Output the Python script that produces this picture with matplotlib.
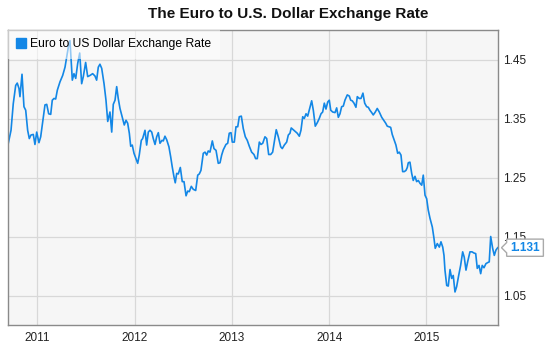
import matplotlib
matplotlib.use("Agg")
import matplotlib.pyplot as plt
from matplotlib.lines import Line2D
from matplotlib.path import Path

plt.rcParams['font.family'] = ['Liberation Sans', 'DejaVu Sans']

# time in decimal years, EUR/USD rate
t = [2010.702, 2010.730, 2010.753, 2010.778, 2010.794, 2010.812, 2010.822, 2010.843, 2010.863, 2010.881,
     2010.901, 2010.918, 2010.935, 2010.959, 2010.976, 2010.994, 2011.017, 2011.035, 2011.062, 2011.079,
     2011.097, 2011.117, 2011.138, 2011.154, 2011.172, 2011.189, 2011.206, 2011.233, 2011.261, 2011.285,
     2011.302, 2011.319, 2011.336, 2011.360, 2011.377, 2011.395, 2011.415, 2011.436, 2011.456, 2011.473,
     2011.497, 2011.518, 2011.542, 2011.569, 2011.593, 2011.610, 2011.627, 2011.644, 2011.662, 2011.686,
     2011.706, 2011.724, 2011.747, 2011.765, 2011.781, 2011.799, 2011.816, 2011.832, 2011.850, 2011.874,
     2011.894, 2011.912, 2011.929, 2011.946, 2011.960, 2011.976, 2011.994, 2012.014, 2012.032, 2012.048,
     2012.069, 2012.083, 2012.107, 2012.124, 2012.141, 2012.158, 2012.176, 2012.192, 2012.210, 2012.227,
     2012.244, 2012.261, 2012.282, 2012.295, 2012.312, 2012.330, 2012.353, 2012.371, 2012.387, 2012.405,
     2012.418, 2012.433, 2012.449, 2012.470, 2012.490, 2012.508, 2012.529, 2012.546, 2012.562, 2012.583,
     2012.603, 2012.628, 2012.649, 2012.665, 2012.682, 2012.706, 2012.724, 2012.741, 2012.757, 2012.775,
     2012.799, 2012.816, 2012.837, 2012.860, 2012.878, 2012.895, 2012.912, 2012.939, 2012.957, 2012.973,
     2012.991, 2013.004, 2013.025, 2013.042, 2013.060, 2013.076, 2013.097, 2013.117, 2013.138, 2013.158,
     2013.179, 2013.203, 2013.227, 2013.244, 2013.261, 2013.282, 2013.299, 2013.317, 2013.340, 2013.358,
     2013.378, 2013.399, 2013.419, 2013.436, 2013.456, 2013.477, 2013.502, 2013.518, 2013.539, 2013.563,
     2013.580, 2013.597, 2013.610, 2013.631, 2013.652, 2013.672, 2013.693, 2013.710, 2013.728, 2013.744,
     2013.762, 2013.779, 2013.795, 2013.820, 2013.837, 2013.857, 2013.878, 2013.898, 2013.916, 2013.933,
     2013.950, 2013.967, 2013.985, 2014.001, 2014.016, 2014.036, 2014.060, 2014.077, 2014.094, 2014.111,
     2014.128, 2014.145, 2014.162, 2014.186, 2014.207, 2014.221, 2014.237, 2014.255, 2014.275, 2014.289,
     2014.309, 2014.327, 2014.347, 2014.365, 2014.385, 2014.402, 2014.419, 2014.437, 2014.453, 2014.474,
     2014.494, 2014.515, 2014.540, 2014.556, 2014.581, 2014.597, 2014.615, 2014.632, 2014.648, 2014.669,
     2014.686, 2014.704, 2014.720, 2014.738, 2014.755, 2014.772, 2014.789, 2014.803, 2014.813, 2014.830,
     2014.848, 2014.864, 2014.882, 2014.899, 2014.916, 2014.934, 2014.951, 2014.967, 2014.985, 2015.002,
     2015.018, 2015.036, 2015.060, 2015.077, 2015.090, 2015.111, 2015.132, 2015.149, 2015.167, 2015.180,
     2015.190, 2015.208, 2015.224, 2015.242, 2015.259, 2015.275, 2015.293, 2015.310, 2015.331, 2015.351,
     2015.372, 2015.388, 2015.406, 2015.423, 2015.447, 2015.468, 2015.488, 2015.506, 2015.522, 2015.540,
     2015.557, 2015.573, 2015.591, 2015.611, 2015.632, 2015.645, 2015.660, 2015.680, 2015.697, 2015.714,
     2015.732]
rate = [1.308, 1.330, 1.375, 1.406, 1.410, 1.401, 1.387, 1.425, 1.370, 1.364,
        1.330, 1.316, 1.322, 1.323, 1.306, 1.327, 1.309, 1.319, 1.353, 1.373,
        1.374, 1.358, 1.357, 1.381, 1.384, 1.383, 1.398, 1.412, 1.423, 1.437,
        1.454, 1.471, 1.482, 1.415, 1.426, 1.418, 1.443, 1.461, 1.409, 1.421,
        1.445, 1.421, 1.423, 1.426, 1.422, 1.415, 1.437, 1.442, 1.435, 1.409,
        1.381, 1.345, 1.361, 1.327, 1.374, 1.381, 1.404, 1.384, 1.367, 1.352,
        1.339, 1.347, 1.342, 1.325, 1.303, 1.305, 1.291, 1.282, 1.274, 1.288,
        1.313, 1.316, 1.330, 1.305, 1.327, 1.330, 1.327, 1.316, 1.306, 1.319,
        1.326, 1.308, 1.313, 1.312, 1.320, 1.314, 1.302, 1.285, 1.268, 1.251,
        1.241, 1.257, 1.256, 1.267, 1.243, 1.243, 1.219, 1.227, 1.226, 1.235,
        1.230, 1.228, 1.254, 1.256, 1.262, 1.291, 1.293, 1.288, 1.295, 1.293,
        1.312, 1.299, 1.296, 1.274, 1.275, 1.288, 1.297, 1.306, 1.308, 1.325,
        1.326, 1.310, 1.310, 1.336, 1.336, 1.353, 1.354, 1.333, 1.319, 1.313,
        1.303, 1.293, 1.289, 1.282, 1.282, 1.310, 1.306, 1.308, 1.319, 1.316,
        1.289, 1.289, 1.293, 1.311, 1.331, 1.319, 1.302, 1.299, 1.305, 1.310,
        1.322, 1.325, 1.334, 1.331, 1.328, 1.325, 1.320, 1.330, 1.353, 1.350,
        1.358, 1.354, 1.364, 1.380, 1.364, 1.337, 1.343, 1.350, 1.358, 1.361,
        1.376, 1.366, 1.378, 1.381, 1.364, 1.361, 1.360, 1.368, 1.352, 1.358,
        1.370, 1.371, 1.381, 1.390, 1.388, 1.381, 1.380, 1.376, 1.369, 1.387,
        1.384, 1.384, 1.393, 1.376, 1.370, 1.369, 1.364, 1.360, 1.356, 1.361,
        1.367, 1.361, 1.352, 1.348, 1.342, 1.337, 1.336, 1.335, 1.323, 1.313,
        1.305, 1.291, 1.293, 1.288, 1.260, 1.260, 1.262, 1.267, 1.275, 1.276,
        1.257, 1.245, 1.252, 1.243, 1.245, 1.240, 1.237, 1.254, 1.220, 1.214,
        1.195, 1.181, 1.166, 1.147, 1.130, 1.138, 1.132, 1.141, 1.132, 1.118,
        1.093, 1.067, 1.066, 1.094, 1.079, 1.084, 1.056, 1.065, 1.084, 1.101,
        1.124, 1.115, 1.093, 1.107, 1.124, 1.124, 1.122, 1.121, 1.096, 1.101,
        1.087, 1.101, 1.097, 1.104, 1.106, 1.107, 1.150, 1.130, 1.118, 1.127,
        1.131]

years = [2011, 2012, 2013, 2014, 2015]
yticks = [1.05, 1.15, 1.25, 1.35, 1.45]
last_label = "1.131"

blue = '#1387e6'

def tag_box(x0, y0, width, height, mutation_size):
    # rectangle with a small pointer on the left side, padding added here
    px = 0.3 * mutation_size
    py = 0.22 * mutation_size
    x0, y0 = x0 - px, y0 - py
    width, height = width + 2 * px, height + 2 * py
    tip = height * 0.3
    ym = y0 + height / 2
    verts = [(x0, y0), (x0 + width, y0), (x0 + width, y0 + height), (x0, y0 + height),
             (x0, ym + tip), (x0 - tip, ym), (x0, ym - tip), (x0, y0)]
    codes = [Path.MOVETO] + [Path.LINETO] * 6 + [Path.CLOSEPOLY]
    return Path(verts, codes)

fig = plt.figure(figsize=(5.48, 3.52), dpi=100)
ax = fig.add_axes([8 / 548, 27 / 352, 489.7 / 548, 295 / 352])
ax.set_facecolor('#f6f6f6')

ax.plot(t, rate, color=blue, lw=1.2, solid_joinstyle='round')

ax.set_xlim(2010.699, t[-1])
ax.set_ylim(1.0, 1.5)
ax.set_xticks(years)
ax.set_xticklabels([str(y) for y in years])
ax.set_yticks(yticks)
ax.set_yticklabels(['%.2f' % v for v in yticks])
ax.yaxis.tick_right()
ax.tick_params(axis='both', length=0, labelsize=8.5, colors='#222222')
ax.tick_params(axis='x', pad=5)
ax.tick_params(axis='y', pad=3.5)
ax.grid(True, color='#d8d8d8', lw=0.9)
ax.set_axisbelow(True)
for s in ax.spines.values():
    s.set_color('#8a8a8a')
    s.set_linewidth(1.0)

handle = Line2D([], [], marker='s', ls='', color=blue, markersize=6.5)
leg = ax.legend([handle], ['Euro to US Dollar Exchange Rate'], loc='upper left',
                bbox_to_anchor=(0, 1), borderaxespad=0, fontsize=8.7,
                frameon=True, fancybox=False, handlelength=0.8, handletextpad=0.35,
                borderpad=0.7)
leg.get_frame().set_facecolor('white')
leg.get_frame().set_alpha(0.55)
leg.get_frame().set_edgecolor('none')

ax.annotate(last_label, xy=(1.0, rate[-1]), xycoords=('axes fraction', 'data'),
            xytext=(9, 0), textcoords='offset points', ha='left', va='center',
            fontsize=8.5, fontweight='bold', color=blue, annotation_clip=False,
            zorder=5,
            bbox=dict(boxstyle=tag_box, fc='white', ec='#aaaaaa', lw=1.0))

fig.text(288 / 548, 1 - 14 / 352, 'The Euro to U.S. Dollar Exchange Rate',
         ha='center', va='center', fontsize=11, fontweight='bold', color='#111111')

fig.savefig('out.png', dpi=100)
